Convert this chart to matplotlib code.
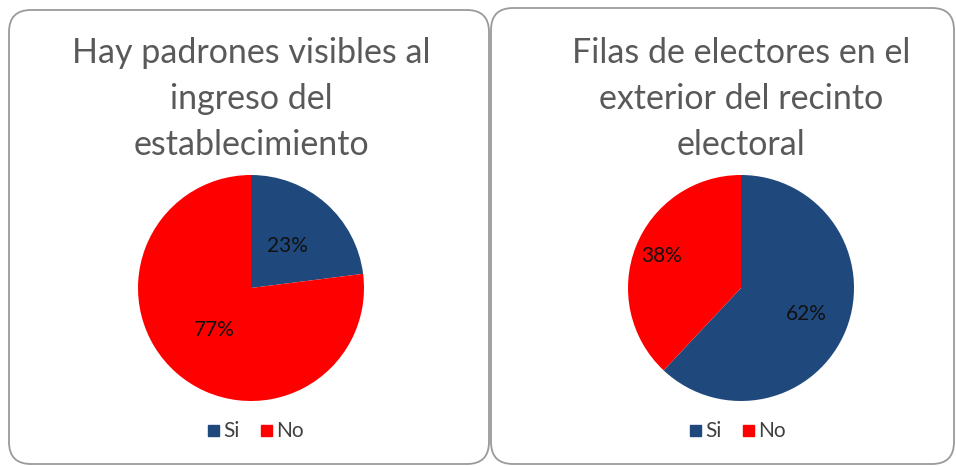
import numpy as np
import matplotlib
matplotlib.use('Agg')
import matplotlib.pyplot as plt
from matplotlib.patches import FancyBboxPatch, Rectangle

plt.rcParams['font.family'] = ['Lato', 'DejaVu Sans']

categorias = ['Si', 'No']
titulo1 = 'Hay padrones visibles al\ningreso del\nestablecimiento'
valores1 = [23, 77]
titulo2 = 'Filas de electores en el\nexterior del recinto\nelectoral'
valores2 = [62, 38]

colores = ['#1F497D', '#FF0000']
dist1 = [0.49, 0.49]
dist2 = [0.62, 0.76]

W, H = 956, 466
fig = plt.figure(figsize=(W/100, H/100), dpi=100)

# capa de fondo en pixeles para los marcos redondeados
bg = fig.add_axes([0, 0, 1, 1])
bg.set_xlim(0, W)
bg.set_ylim(H, 0)
bg.axis('off')
for x0, x1, y0, y1 in [(9, 489, 10, 464), (491, 954, 8, 464)]:
    bg.add_patch(FancyBboxPatch((x0+22, y0+22), x1-x0-44, y1-y0-44,
                                boxstyle='round,pad=22', fc='white',
                                ec='#9a9a9a', lw=1.3))

def panel(cx, titulo, valores, dist, leg_x):
    R = 113
    ax = fig.add_axes([(cx-R)/W, (H-288-R)/H, 2*R/W, 2*R/H])
    wedges, _ = ax.pie(valores, colors=colores, startangle=90,
                       counterclock=False, radius=1,
                       wedgeprops=dict(linewidth=0))
    for w, v, d in zip(wedges, valores, dist):
        ang = np.deg2rad((w.theta1 + w.theta2) / 2)
        ax.text(d*np.cos(ang), d*np.sin(ang), '%d%%' % v, ha='center',
                va='center', fontsize=15, color='#111111')
    ax.set_aspect('equal')
    ax.set_xlim(-1, 1)
    ax.set_ylim(-1, 1)
    bg.text(cx, 99, titulo, ha='center', va='center', fontsize=24.5,
            color='#595959', linespacing=1.55)
    # leyenda
    x = leg_x
    for c, lab in zip(colores, categorias):
        bg.add_patch(Rectangle((x, 425), 11, 11, color=c))
        bg.text(x+15, 431, lab, va='center', ha='left', fontsize=15,
                color='#404040')
        x += 53

panel(251, titulo1, valores1, dist1, 208)
panel(741, titulo2, valores2, dist2, 690)

plt.savefig('out.png', dpi=100)
plt.close()
